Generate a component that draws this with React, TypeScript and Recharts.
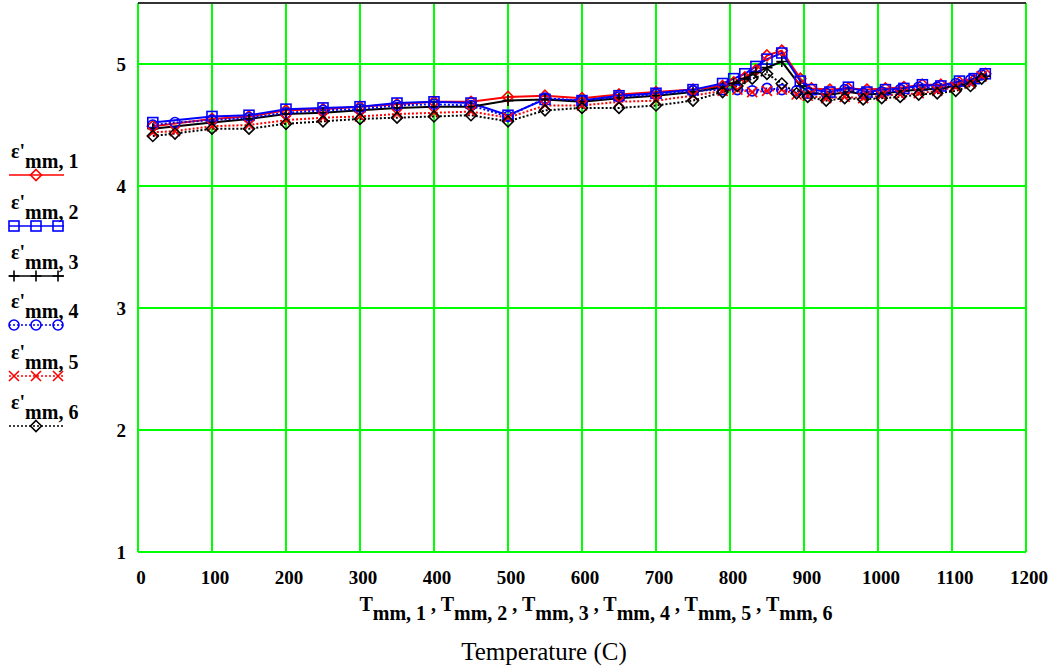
import React from 'react';
import { LineChart, Line, XAxis, YAxis, CartesianGrid, ReferenceLine, Customized } from 'recharts';

// Temperatures (C) for series 1-3 and for series 4-6
const T_A = [20, 100, 150, 200, 250, 300, 350, 400, 450, 500, 550, 600, 650, 700, 750, 790, 805, 820, 835, 850, 870, 895, 910, 935, 960, 985, 1010, 1035, 1060, 1085, 1110, 1130, 1145];
const T_B = [20, 50, 100, 150, 200, 250, 300, 350, 400, 450, 500, 550, 600, 650, 700, 750, 790, 810, 830, 850, 870, 890, 905, 930, 955, 980, 1005, 1030, 1055, 1080, 1105, 1125, 1140];

// Permittivity ε'mm for six measurements
const EPS_1 = [4.49, 4.55, 4.57, 4.62, 4.63, 4.65, 4.67, 4.69, 4.69, 4.73, 4.74, 4.72, 4.75, 4.77, 4.79, 4.82, 4.85, 4.89, 4.95, 5.07, 5.11, 4.88, 4.80, 4.79, 4.80, 4.79, 4.80, 4.81, 4.83, 4.83, 4.85, 4.87, 4.92];
const EPS_2 = [4.52, 4.57, 4.58, 4.63, 4.64, 4.65, 4.68, 4.69, 4.68, 4.58, 4.71, 4.70, 4.74, 4.76, 4.79, 4.84, 4.88, 4.92, 4.98, 5.04, 5.09, 4.86, 4.79, 4.77, 4.81, 4.77, 4.79, 4.80, 4.83, 4.82, 4.86, 4.88, 4.92];
const EPS_3 = [4.47, 4.52, 4.55, 4.59, 4.60, 4.62, 4.64, 4.65, 4.65, 4.70, 4.71, 4.69, 4.72, 4.74, 4.77, 4.81, 4.84, 4.88, 4.93, 4.97, 5.02, 4.82, 4.76, 4.75, 4.77, 4.75, 4.76, 4.78, 4.79, 4.80, 4.83, 4.86, 4.90];
const EPS_4 = [4.50, 4.52, 4.54, 4.56, 4.60, 4.62, 4.63, 4.66, 4.67, 4.66, 4.57, 4.72, 4.70, 4.73, 4.75, 4.78, 4.79, 4.79, 4.78, 4.80, 4.79, 4.78, 4.76, 4.76, 4.79, 4.76, 4.77, 4.79, 4.81, 4.81, 4.84, 4.87, 4.91];
const EPS_5 = [4.44, 4.45, 4.49, 4.50, 4.54, 4.56, 4.57, 4.59, 4.60, 4.61, 4.56, 4.66, 4.66, 4.69, 4.70, 4.74, 4.78, 4.79, 4.77, 4.78, 4.79, 4.75, 4.74, 4.72, 4.73, 4.72, 4.74, 4.75, 4.76, 4.78, 4.81, 4.84, 4.90];
const EPS_6 = [4.41, 4.43, 4.47, 4.47, 4.51, 4.53, 4.55, 4.56, 4.57, 4.58, 4.53, 4.62, 4.64, 4.64, 4.66, 4.70, 4.77, 4.82, 4.88, 4.92, 4.84, 4.76, 4.73, 4.70, 4.72, 4.71, 4.72, 4.73, 4.75, 4.76, 4.78, 4.82, 4.88];

const X_TICKS = [0, 100, 200, 300, 400, 500, 600, 700, 800, 900, 1000, 1100, 1200];
const Y_TICKS = [1, 2, 3, 4, 5];
const SERIES_IDS = ['1', '2', '3', '4', '5', '6'];
const X_SUBS = ['1', '2', '3', '4', '5', '6'];
const X_TITLE = 'Temperature (C)';

const FONT = '"Liberation Serif", "Times New Roman", Times, serif';
const GREEN = '#00ff00';

type Kind = 'diamond' | 'square' | 'plus' | 'circle' | 'cross';

const styles: { color: string; dash?: string; kind: Kind; legendMarks: number[] }[] = [
  { color: '#ff0000', kind: 'diamond', legendMarks: [36] },
  { color: '#0000ff', kind: 'square', legendMarks: [14, 36, 58] },
  { color: '#000000', kind: 'plus', legendMarks: [14, 36, 58] },
  { color: '#0000ff', dash: '2 2', kind: 'circle', legendMarks: [14, 36, 58] },
  { color: '#ff0000', dash: '2 2', kind: 'cross', legendMarks: [14, 36, 58] },
  { color: '#000000', dash: '2 2', kind: 'diamond', legendMarks: [36] },
];

const seriesData = [
  T_A.map((t, i) => ({ t, v: EPS_1[i] })),
  T_A.map((t, i) => ({ t, v: EPS_2[i] })),
  T_A.map((t, i) => ({ t, v: EPS_3[i] })),
  T_B.map((t, i) => ({ t, v: EPS_4[i] })),
  T_B.map((t, i) => ({ t, v: EPS_5[i] })),
  T_B.map((t, i) => ({ t, v: EPS_6[i] })),
];

function Marker({ kind, cx, cy, color }: { kind: Kind; cx: number; cy: number; color: string }) {
  const sw = 1.6;
  switch (kind) {
    case 'diamond':
      return <path d={`M${cx},${cy - 5.5}L${cx + 5.5},${cy}L${cx},${cy + 5.5}L${cx - 5.5},${cy}Z`} fill="none" stroke={color} strokeWidth={sw} />;
    case 'square':
      return <rect x={cx - 5} y={cy - 5} width={10} height={10} fill="none" stroke={color} strokeWidth={sw} />;
    case 'plus':
      return <path d={`M${cx - 5.5},${cy}H${cx + 5.5}M${cx},${cy - 5.5}V${cy + 5.5}`} stroke={color} strokeWidth={sw} />;
    case 'circle':
      return <circle cx={cx} cy={cy} r={5} fill="none" stroke={color} strokeWidth={sw} />;
    case 'cross':
      return <path d={`M${cx - 5},${cy - 5}L${cx + 5},${cy + 5}M${cx + 5},${cy - 5}L${cx - 5},${cy + 5}`} stroke={color} strokeWidth={sw} />;
  }
  return null;
}

const XTick = (props: any) => {
  const { x, payload } = props;
  return (
    <text x={x + 3} y={584} textAnchor="middle" fontFamily={FONT} fontWeight="bold" fontSize={19} fill="#000">
      {payload.value}
    </text>
  );
};

const YTick = (props: any) => {
  const { y, payload } = props;
  return (
    <text x={126} y={y + 7} textAnchor="end" fontFamily={FONT} fontWeight="bold" fontSize={19} fill="#000">
      {payload.value}
    </text>
  );
};

const LEGEND_LINE_Y = [175, 226, 276, 325, 376, 426];

const Overlay = () => {
  const parts: React.ReactNode[] = [];
  X_SUBS.forEach((s, i) => {
    parts.push(<tspan key={`T${i}`}>{i === 0 ? 'T' : ' T'}</tspan>);
    parts.push(<tspan key={`s${i}`} dy={9}>{`mm, ${s}`}</tspan>);
    if (i < X_SUBS.length - 1) parts.push(<tspan key={`c${i}`} dy={-9}>{' ,'}</tspan>);
  });
  return (
    <g>
      <text x={596} y={611} textAnchor="middle" fontFamily={FONT} fontWeight="bold" fontSize={20} fill="#000">
        {parts}
      </text>
      <text x={544} y={660} textAnchor="middle" fontFamily={FONT} fontSize={25} fill="#000">
        {X_TITLE}
      </text>
      {styles.map((st, i) => {
        const ly = LEGEND_LINE_Y[i];
        return (
          <g key={`leg${i}`}>
            <text x={11} y={ly - 17} fontFamily={FONT} fontWeight="bold" fontSize={20} fill="#000">
              <tspan>ε'</tspan>
              <tspan dy={10}>{`mm, ${SERIES_IDS[i]}`}</tspan>
            </text>
            <line x1={9} x2={64} y1={ly} y2={ly} stroke={st.color} strokeWidth={1.6} strokeDasharray={st.dash} />
            {st.legendMarks.map((mx, j) => (
              <Marker key={j} kind={st.kind} cx={mx} cy={ly} color={st.color} />
            ))}
          </g>
        );
      })}
    </g>
  );
};

export default function App() {
  return (
    <div style={{ position: 'absolute', left: 0, top: 0, width: 1057, height: 672, background: '#fff' }}>
      <LineChart width={1057} height={672} margin={{ top: 3, right: 31, bottom: 0, left: 0 }}>
        <CartesianGrid stroke={GREEN} strokeWidth={2} />
        <XAxis
          type="number"
          dataKey="t"
          domain={[0, 1200]}
          ticks={X_TICKS}
          allowDataOverflow
          axisLine={false}
          tickLine={false}
          tickSize={0}
          tickMargin={0}
          height={120}
          tick={<XTick />}
          interval={0}
        />
        <YAxis
          type="number"
          dataKey="v"
          domain={[1, 5.5]}
          ticks={Y_TICKS}
          allowDataOverflow
          axisLine={false}
          tickLine={false}
          tickSize={0}
          tickMargin={0}
          width={138}
          tick={<YTick />}
          interval={0}
        />
        <ReferenceLine y={5.5} stroke="#333" strokeWidth={2} />
        {seriesData.map((d, i) => {
          const st = styles[i];
          return (
            <Line
              key={`s${i}`}
              data={d}
              dataKey="v"
              type="linear"
              stroke={st.color}
              strokeWidth={2}
              strokeDasharray={st.dash}
              isAnimationActive={false}
              dot={(p: any) => <Marker key={`m${i}-${p.index}`} kind={st.kind} cx={p.cx} cy={p.cy} color={st.color} />}
              activeDot={false}
            />
          );
        })}
        <Customized component={Overlay} />
      </LineChart>
    </div>
  );
}
